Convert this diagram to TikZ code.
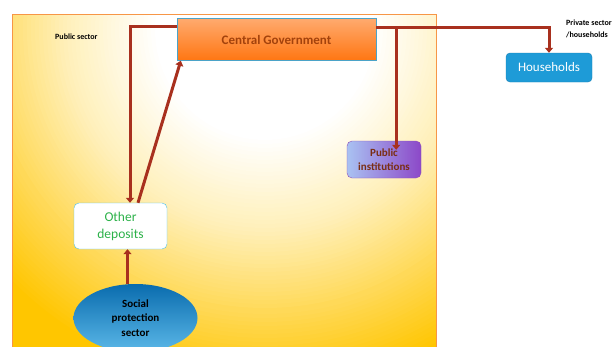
\documentclass[tikz,border=0pt]{standalone}
\usepackage{fontspec}
\setmainfont{Carlito}
\usepackage{tikz}
\usetikzlibrary{arrows.meta}
\usetikzlibrary{shapes.geometric}

\definecolor{flowred}{HTML}{A8301E}
\definecolor{panelline}{HTML}{F79646}
\definecolor{glowa}{HTML}{FFF0BA}
\definecolor{glowb}{HTML}{FFDA5C}
\definecolor{glowc}{HTML}{FFC600}
\definecolor{cgtop}{HTML}{FFAA6E}
\definecolor{cgbot}{HTML}{FF7612}
\definecolor{cgtext}{HTML}{A3420C}
\definecolor{cgline}{HTML}{4BA3C8}
\definecolor{hhfill}{HTML}{1E9BD7}
\definecolor{hhline}{HTML}{1A7FB2}
\definecolor{pileft}{HTML}{A9C2F2}
\definecolor{piright}{HTML}{8C48C8}
\definecolor{piline}{HTML}{8E4DB8}
\definecolor{pitext}{HTML}{7A2E14}
\definecolor{odline}{HTML}{4CC0E8}
\definecolor{odtext}{HTML}{2DB24A}
\definecolor{sptop}{HTML}{0A6CAE}
\definecolor{spbot}{HTML}{5BB8E8}

\begin{document}
\begin{tikzpicture}[x=1pt, y=-1pt,
	flow/.style={line width=3pt, draw=flowred, -{Triangle[length=5pt,width=8pt]}},
	cgbox/.style={draw=cgline, top color=cgtop, bottom color=cgbot, text=cgtext, font=\fontsize{13}{15}\selectfont\bfseries, minimum width=199pt, minimum height=42pt, inner sep=0pt},
	hhbox/.style={draw=hhline, fill=hhfill, rounded corners=4pt, text=white, font=\fontsize{13}{15}\selectfont, minimum width=86pt, minimum height=29pt, inner sep=0pt},
	pibox/.style={draw=piline, left color=pileft, right color=piright, rounded corners=5pt, text=pitext, font=\fontsize{11}{14}\selectfont\bfseries, align=center, minimum width=74pt, minimum height=37pt, inner sep=0pt},
	odbox/.style={draw=odline, fill=white, rounded corners=5pt, text=odtext, font=\fontsize{13.5}{17}\selectfont, align=center, minimum width=93pt, minimum height=46pt, inner sep=0pt},
	spblob/.style={ellipse, top color=sptop, bottom color=spbot, font=\fontsize{11}{14.5}\selectfont\bfseries, align=center, minimum width=124pt, minimum height=68pt, inner sep=0pt},
	tag/.style={font=\fontsize{8}{12}\selectfont\bfseries, align=left, inner sep=0pt}]
	\useasboundingbox (0,0) rectangle (616,346);
	\clip (0,0) rectangle (616,346);
	% background panel: rings from gold out to white in
	\begin{scope}
		\clip (12,14) rectangle (436,352);
		\fill [glowc] (12,14) rectangle (436,352);
		\foreach \r in {360,356,...,282} {
			\pgfmathtruncatemacro\p{(\r-280)/80*100}
			\fill [glowc!\p!glowb] (265,30) circle (\r);
		}
		\foreach \r in {278,274,...,202} {
			\pgfmathtruncatemacro\p{(\r-200)/80*100}
			\fill [glowb!\p!glowa] (265,30) circle (\r);
		}
		\foreach \r in {198,194,...,110} {
			\pgfmathtruncatemacro\p{(\r-110)/90*100}
			\fill [glowa!\p!white] (265,30) circle (\r);
		}
	\end{scope}
	\draw [panelline, line width=1pt] (12,352) -- (12,14) -- (436,14) -- (436,352);
	% boxes
	\node [cgbox] (cg) at (276.5,39.5) {Central Government};
	\node [hhbox] (hh) at (549,67.5) {Households};
	\node [pibox] (pi) at (384,159.5) {Public\\institutions};
	\node [odbox] (od) at (120.5,226) {Other\\deposits};
	\node [spblob] (sp) at (135.5,318) {Social\\protection\\sector};
	\node [tag, anchor=west] (pubtag) at (55,37) {Public sector};
	\node [tag, anchor=north west] (privtag) at (566,20) {Private sector\\/households};
	% connectors
	\draw [flow] ([yshift=-8pt]cg.north west) -| ([xshift=9.5pt]od.north);
	\draw [flow] ([xshift=17.5pt]od.north) -- ([xshift=4pt]cg.south west);
	\draw [flow] ([yshift=-9pt]cg.north east) -| (hh.north);
	\draw [flow] ([xshift=20pt,yshift=-9pt]cg.north east) -- ([xshift=20pt,yshift=-9pt]cg.north east |- pi.north);
	\draw [flow] ([xshift=-8pt]sp.north) -- ([xshift=-8pt]sp.north |- od.south);
\end{tikzpicture}
\end{document}
